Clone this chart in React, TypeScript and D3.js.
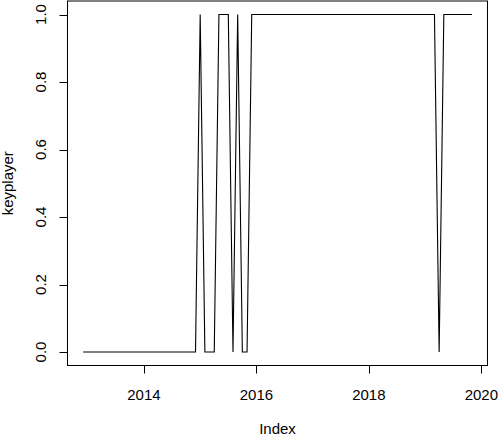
import React from "react";
import * as d3 from "d3";

// monthly series, starts Dec 2012 (frequency 12)
const startYear = 2012;
const startMonth = 12;
const keyplayer = [
  0, // 2012 Dec
  0, 0, 0, 0, 0, 0, 0, 0, 0, 0, 0, 0, // 2013
  0, 0, 0, 0, 0, 0, 0, 0, 0, 0, 0, 0, // 2014
  1, 0, 0, 0, 1, 1, 1, 0, 1, 0, 0, 1, // 2015
  1, 1, 1, 1, 1, 1, 1, 1, 1, 1, 1, 1, // 2016
  1, 1, 1, 1, 1, 1, 1, 1, 1, 1, 1, 1, // 2017
  1, 1, 1, 1, 1, 1, 1, 1, 1, 1, 1, 1, // 2018
  1, 1, 1, 0, 1, 1, 1, 1, 1, 1, 1, // 2019 Jan-Nov
];
const xTicks = [2014, 2016, 2018, 2020];
const yTicks = [0, 0.2, 0.4, 0.6, 0.8, 1.0];

const W = 498;
const H = 437;
const left = 67.5, right = 487.5, top = 1, bottom = 365.5;
const font = "'Liberation Sans', Arial, Helvetica, sans-serif";

const App = () => {
  const data = keyplayer.map((v, i) => ({
    t: startYear + (startMonth - 1) / 12 + i / 12,
    v,
  }));

  // R style 4% padding on both axes
  const tExt = d3.extent(data, d => d.t) as [number, number];
  const tPad = (tExt[1] - tExt[0]) * 0.04;
  const x = d3.scaleLinear().domain([tExt[0] - tPad, tExt[1] + tPad]).range([left, right]);
  const y = d3.scaleLinear().domain([-0.04, 1.04]).range([bottom, top]);

  const line = d3
    .line<{ t: number; v: number }>()
    .x(d => x(d.t))
    .y(d => y(d.v));

  return (
    <svg
      width={W}
      height={H}
      style={{ position: "fixed", left: 0, top: 0, background: "#fff" }}
      fontFamily={font}
    >
      <rect x={0} y={0} width={W} height={H} fill="#fff" />
      <path d={line(data) || ""} fill="none" stroke="#000" strokeWidth={1.1} />
      <rect
        x={left}
        y={top}
        width={right - left}
        height={bottom - top}
        fill="none"
        stroke="#000"
        strokeWidth={1}
      />

      {/* x axis */}
      <line x1={x(xTicks[0])} x2={x(xTicks[xTicks.length - 1])} y1={bottom} y2={bottom} stroke="#000" />
      {xTicks.map(t => (
        <g key={t}>
          <line x1={Math.round(x(t)) + 0.5} x2={Math.round(x(t)) + 0.5} y1={bottom} y2={bottom + 8} stroke="#000" />
          <text x={x(t)} y={400} textAnchor="middle" fontSize={15} fill="#000">
            {t}
          </text>
        </g>
      ))}

      {/* y axis */}
      {yTicks.map(t => (
        <g key={t}>
          <line x1={left - 8} x2={left} y1={Math.round(y(t)) + 0.5} y2={Math.round(y(t)) + 0.5} stroke="#000" />
          <text
            transform={`translate(46,${y(t)}) rotate(-90)`}
            textAnchor="middle"
            fontSize={15}
            fill="#000"
          >
            {d3.format(".1f")(t)}
          </text>
        </g>
      ))}

      <text x={(left + right) / 2} y={434} textAnchor="middle" fontSize={15} fill="#000">
        Index
      </text>
      <text
        transform={`translate(13,${(top + bottom) / 2}) rotate(-90)`}
        textAnchor="middle"
        fontSize={15}
        fill="#000"
      >
        keyplayer
      </text>
    </svg>
  );
};

export default App;
